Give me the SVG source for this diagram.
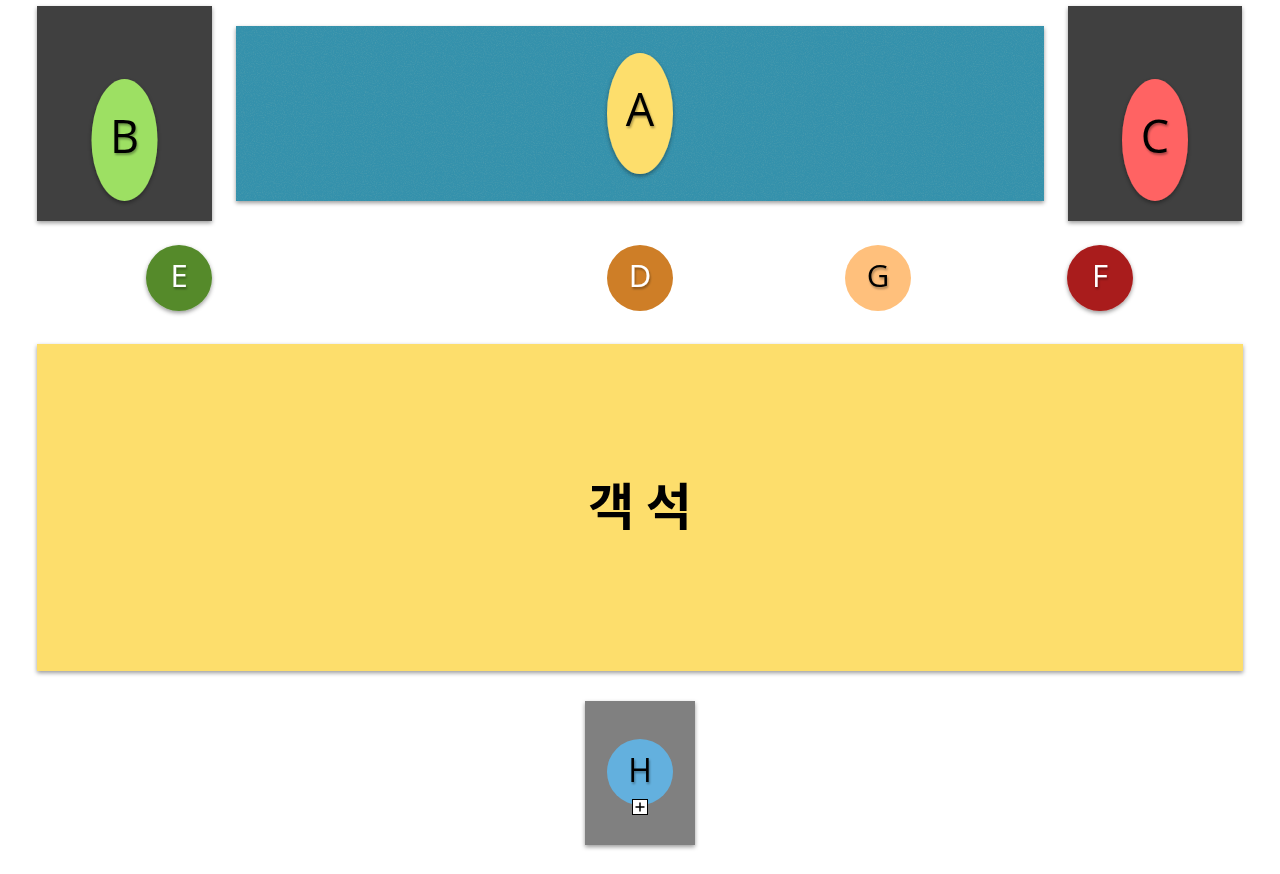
<svg xmlns="http://www.w3.org/2000/svg" width="1280" height="874" viewBox="0 0 1280 874">
<defs>
<filter id="sh" x="-20%" y="-20%" width="140%" height="140%">
<feDropShadow dx="0" dy="2" stdDeviation="2" flood-color="#000" flood-opacity="0.4"/>
</filter>
<filter id="tsh" x="-30%" y="-30%" width="160%" height="160%">
<feDropShadow dx="1" dy="2" stdDeviation="1.2" flood-color="#000" flood-opacity="0.35"/>
</filter>
<filter id="noise" x="0" y="0" width="100%" height="100%">
<feTurbulence type="fractalNoise" baseFrequency="0.9" numOctaves="2" seed="3" result="n"/>
<feColorMatrix in="n" type="matrix" values="0 0 0 0 0.06  0 0 0 0 0.32  0 0 0 0 0.42  0 0 0 -2.2 1.25" result="d"/>
<feComposite in="d" in2="SourceGraphic" operator="in" result="dn"/>
<feMerge><feMergeNode in="SourceGraphic"/><feMergeNode in="dn"/></feMerge>
</filter>
</defs>
<style>
.lbl{font-family:"Open Sans","Noto Sans","Liberation Sans",sans-serif;text-anchor:middle;dominant-baseline:central}
.big{font-size:45px;fill:#000}
.sm{font-size:31px}
.w{fill:#fff}
.k{fill:#000}
.box{fill:#404040}
</style>
<rect width="1280" height="874" fill="#fff"/>
<g id="node-A">
<rect x="236" y="26" width="808" height="175" fill="#3591AC" filter="url(#sh)"/>
<rect x="236" y="26" width="808" height="175" fill="#3591AC" filter="url(#noise)"/>
<ellipse cx="640" cy="113.5" rx="33" ry="60.5" fill="#FDDE6C" filter="url(#sh)"/>
<text x="640" y="108" class="lbl big" filter="url(#tsh)">A</text>
</g>
<g id="node-B">
<rect x="37" y="6" width="175" height="215" class="box" filter="url(#sh)"/>
<ellipse cx="124.5" cy="140" rx="33" ry="61" fill="#9DE063" filter="url(#sh)"/>
<text x="124.5" y="135" class="lbl big" filter="url(#tsh)">B</text>
</g>
<g id="node-C">
<rect x="1068" y="6" width="174" height="215" class="box" filter="url(#sh)"/>
<ellipse cx="1155" cy="140" rx="33" ry="61" fill="#FF6363" filter="url(#sh)"/>
<text x="1155" y="135" class="lbl big" filter="url(#tsh)">C</text>
</g>
<g id="node-E">
<circle cx="179" cy="278" r="33" fill="#548A2C" filter="url(#sh)"/>
<text x="179" y="275" class="lbl sm w" filter="url(#tsh)">E</text>
</g>
<g id="node-D">
<circle cx="640" cy="278" r="33" fill="#CE7E27"/>
<text x="640" y="275" class="lbl sm w" filter="url(#tsh)">D</text>
</g>
<g id="node-G">
<circle cx="878" cy="278" r="33" fill="#FFC07C"/>
<text x="878" y="275" class="lbl sm k" filter="url(#tsh)">G</text>
</g>
<g id="node-F">
<circle cx="1100" cy="278" r="33" fill="#A91B1B" filter="url(#sh)"/>
<text x="1100" y="275" class="lbl sm w" filter="url(#tsh)">F</text>
</g>
<g id="node-seats">
<rect x="37" y="344" width="1206" height="327" fill="#FDDE6C" filter="url(#sh)"/>
<text x="640" y="503" font-family="'Noto Sans CJK KR','Noto Sans CJK SC',sans-serif" font-size="50" font-weight="bold" text-anchor="middle" dominant-baseline="central" fill="#000">객 석</text>
</g>
<g id="node-H">
<rect x="585" y="701" width="110" height="144" fill="#808080" filter="url(#sh)"/>
<circle cx="640" cy="772" r="33" fill="#63B0DE"/>
<text x="640" y="769" class="lbl k" font-size="32" filter="url(#tsh)">H</text>
<rect x="632.5" y="799.5" width="15" height="15" fill="#fff" stroke="#000" stroke-width="1"/>
<path d="M640 802.5V811.5M635.5 807H644.5" stroke="#000" stroke-width="1.5"/>
</g>
<g id="connectors"/>
</svg>
